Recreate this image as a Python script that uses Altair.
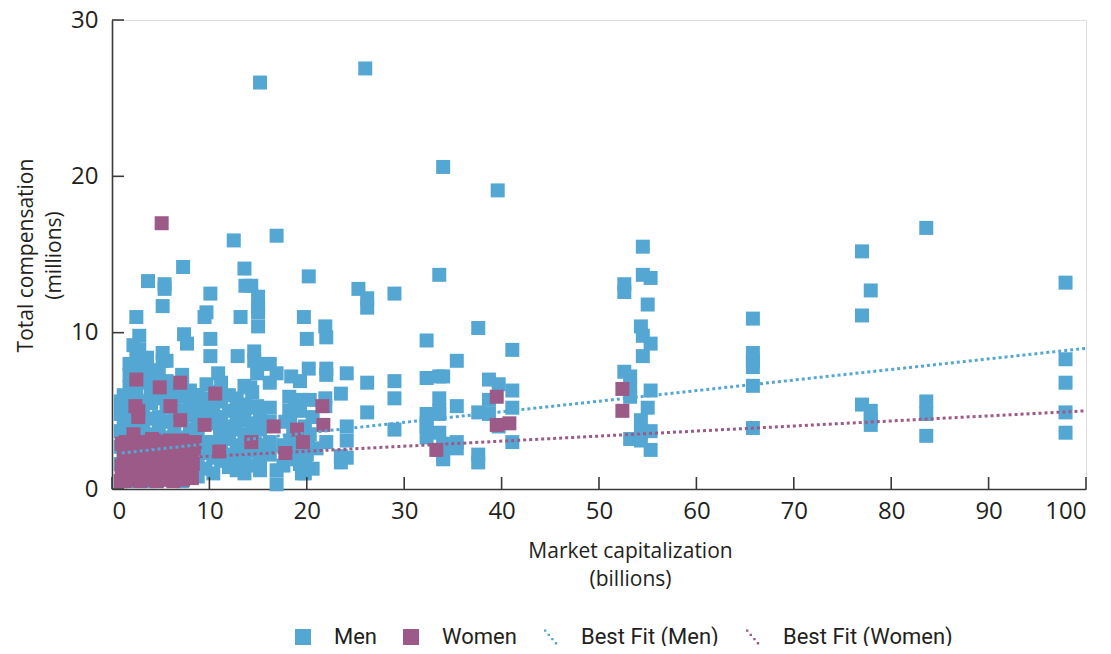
import altair as alt
import pandas as pd

# ---------------- data ----------------
men_x = [
    15.2, 26.0, 34.0, 39.6, 83.6, 54.5, 77.0, 12.5, 16.9, 7.3, 3.7, 5.4, 5.4, 13.6, 13.7, 14.3,
    15.0, 15.0, 15.0, 15.0, 10.1, 5.2, 9.7, 9.5, 2.5, 13.2, 2.8, 2.2, 7.4, 7.7, 10.1, 10.1,
    12.9, 14.6, 14.6, 15.9, 16.9, 5.2, 5.2, 2.8, 3.6, 3.4, 10.9, 7.2, 7.2, 9.7, 10.9, 8.7,
    14.9, 14.2, 13.0, 14.9, 13.0, 14.9, 10.1, 11.1, 11.1,
    20.2, 25.3, 26.2, 26.2, 29.0, 33.6, 19.7, 21.9, 22.0, 20.0, 32.3, 16.2, 20.2, 22.0, 22.0,
    24.1, 18.4, 19.3, 26.2, 29.0, 29.0, 32.3, 33.6, 34.0, 23.5, 21.9, 21.9, 18.2, 19.3, 18.2,
    19.3, 26.2, 32.3, 33.6, 33.6, 24.1, 24.1, 29.0, 32.3, 32.3, 33.6, 34.0, 34.0, 22.0, 23.5,
    23.5, 24.1, 19.8, 20.1, 19.8, 19.8, 18.3, 18.3, 18.3, 19.3, 16.9, 16.9,
    37.6, 41.1, 35.4, 38.7, 39.7, 41.1, 41.1, 33.6, 35.4, 37.6, 38.7, 38.7, 32.3, 39.7, 35.4,
    35.4, 33.6, 34.0, 41.1, 37.6, 37.6,
    54.5, 55.3, 52.6, 52.6, 55.0, 54.3, 54.5, 55.3, 54.5, 52.6, 53.2, 53.2, 53.2, 55.3, 55.0,
    54.3, 54.3, 53.2, 55.3, 55.3, 54.3,
    77.9, 77.0, 97.9, 65.8, 65.8, 65.8, 65.8, 65.8, 65.8, 77.0, 77.9, 77.9, 77.9, 83.6, 83.6,
    83.6, 97.9, 97.9, 97.9, 97.9,
    # dense cluster near the origin
    0.9, 0.9, 0.9, 0.9, 0.9, 0.9,
    1.2, 1.2, 1.2, 1.2, 1.2, 1.2, 1.2,
    1.8, 1.8, 1.8, 1.8, 1.8, 1.8, 1.8, 1.8,
    2.5, 2.5, 2.5, 2.5, 2.5, 2.5, 2.5, 2.5, 2.5,
    3.2, 3.2, 3.2, 3.2, 3.2, 3.2, 3.2, 3.2, 3.2,
    4.0, 4.0, 4.0, 4.0, 4.0, 4.0, 4.0, 4.0, 4.0,
    4.8, 4.8, 4.8, 4.8, 4.8, 4.8, 4.8, 4.8,
    5.6, 5.6, 5.6, 5.6, 5.6, 5.6, 5.6, 5.6, 5.6,
    6.4, 6.4, 6.4, 6.4, 6.4, 6.4, 6.4,
    7.2, 7.2, 7.2, 7.2, 7.2, 7.2, 7.2,
    8.0, 8.0, 8.0, 8.0, 8.0, 8.0, 8.0,
    8.8, 8.8, 8.8, 8.8, 8.8, 8.8, 8.8,
    9.6, 9.6, 9.6, 9.6, 9.6, 9.6,
    10.4, 10.4, 10.4, 10.4, 10.4,
    11.2, 11.2, 11.2, 11.2, 11.2, 11.2,
    12.0, 12.0, 12.0, 12.0, 12.0, 12.0,
    12.8, 12.8, 12.8, 12.8, 12.8, 12.8,
    13.6, 13.6, 13.6, 13.6, 13.6, 13.6, 13.6,
    14.4, 14.4, 14.4, 14.4, 14.4, 14.4,
    15.2, 15.2, 15.2, 15.2, 15.2,
    16.2, 16.2, 16.2, 16.2, 16.2,
    17.6, 17.6, 17.8, 18.6, 18.6, 18.8, 19.2, 19.5, 20.0, 20.3, 20.6, 20.3, 20.6, 21.0,
]
men_y = [
    26.0, 26.9, 20.6, 19.1, 16.7, 15.5, 15.2, 15.9, 16.2, 14.2, 13.3, 13.1, 12.8, 14.1, 13.0, 13.0,
    12.3, 11.6, 11.3, 10.4, 12.5, 11.7, 11.3, 11.0, 11.0, 11.0, 9.8, 9.2, 9.9, 9.3, 9.6, 8.5,
    8.5, 8.8, 8.2, 8.0, 7.4, 8.7, 8.2, 8.9, 8.4, 7.8, 7.4, 7.3, 6.7, 6.7, 6.2, 6.0,
    7.4, 6.5, 5.3, 5.3, 4.6, 4.2, 4.8, 4.0, 3.6,
    13.6, 12.8, 12.2, 11.6, 12.5, 13.7, 11.0, 10.4, 9.7, 9.6, 9.5, 8.0, 7.7, 7.7, 7.3,
    7.4, 7.2, 6.9, 6.8, 6.9, 5.8, 7.1, 7.2, 7.2, 6.1, 5.8, 5.3, 5.9, 5.7, 5.0,
    5.0, 4.9, 4.8, 5.8, 5.0, 4.0, 3.1, 3.8, 4.2, 3.3, 3.6, 2.9, 2.1, 3.0, 2.1,
    1.7, 2.0, 4.0, 2.9, 1.9, 1.0, 4.6, 3.1, 2.1, 1.6, 1.2, 0.3,
    10.3, 8.9, 8.2, 7.0, 6.7, 6.3, 5.2, 4.8, 5.3, 4.9, 5.7, 4.8, 4.0, 4.0, 3.0,
    2.6, 2.5, 1.9, 3.0, 2.2, 1.7,
    13.7, 13.5, 13.1, 12.6, 11.8, 10.4, 9.8, 9.3, 8.5, 7.5, 7.2, 6.5, 5.9, 6.3, 5.2,
    4.4, 3.6, 3.2, 3.7, 2.5, 3.1,
    12.7, 11.1, 13.2, 10.9, 8.7, 8.2, 7.8, 6.6, 3.9, 5.4, 5.0, 4.5, 4.1, 5.6, 4.8,
    3.4, 8.3, 6.8, 4.9, 3.6,
    0.5, 1.6, 2.7, 3.7, 4.8, 5.6,
    0.6, 1.5, 2.5, 3.5, 4.5, 5.3, 6.0,
    0.8, 2.0, 3.0, 4.0, 5.0, 6.5, 7.3, 8.0,
    0.5, 1.3, 2.2, 3.2, 4.2, 5.7, 6.3, 7.6, 8.4,
    0.7, 1.8, 2.8, 3.8, 4.8, 5.6, 6.8, 7.5, 8.0,
    0.5, 1.5, 2.5, 3.5, 4.5, 5.5, 6.2, 7.0, 7.6,
    0.8, 1.9, 2.9, 3.9, 4.6, 5.8, 6.6, 7.4,
    0.6, 1.4, 2.4, 3.3, 4.3, 5.2, 6.0, 6.9, 8.2,
    0.9, 1.8, 2.7, 3.6, 4.9, 5.6, 6.4,
    0.5, 1.2, 2.2, 3.3, 4.5, 5.0, 5.9,
    1.0, 1.9, 2.8, 3.8, 4.7, 5.5, 6.3,
    0.8, 1.6, 2.6, 3.5, 4.4, 5.2, 6.0,
    1.3, 2.3, 3.0, 4.3, 5.0, 5.8,
    1.0, 2.0, 3.0, 4.2, 5.4,
    1.8, 2.7, 3.6, 4.6, 5.6, 6.8,
    1.4, 2.2, 3.2, 4.0, 5.0, 6.0,
    1.2, 2.0, 2.8, 3.8, 4.7, 5.8,
    1.0, 1.8, 2.7, 3.5, 4.4, 5.4, 6.6,
    1.5, 2.4, 3.2, 4.0, 5.2, 6.2,
    1.2, 2.0, 2.8, 3.8, 4.6,
    2.2, 3.0, 4.3, 5.2, 6.8,
    1.5, 2.8, 4.3, 1.9, 3.6, 5.5, 2.5, 1.0, 2.2, 3.5, 4.6, 5.7, 1.3, 2.6,
]

women_x = [
    5.1, 2.5, 4.9, 7.0, 10.6, 2.4, 2.7, 2.7, 6.0, 7.0, 9.5, 2.2, 4.3, 7.2, 8.5, 11.0,
    14.3, 16.6, 21.6, 21.7, 19.0, 19.6, 17.8, 33.3, 39.5, 39.5, 40.8, 52.4, 52.4,
    # solid cluster near the origin
    1.0, 1.0, 1.2, 1.6, 1.8, 2.0, 2.4, 2.6, 2.8, 3.2, 3.4, 3.6, 4.0, 4.2, 4.4, 4.8,
    5.0, 5.2, 5.6, 5.8, 6.0, 6.4, 6.6, 6.8, 7.2, 7.4, 7.6, 8.0, 8.2, 8.4,
    1.4, 3.0, 5.0, 6.2, 1.3, 3.8, 6.9,
    0.9, 1.1, 1.0, 1.9, 2.1, 1.8, 2.9, 3.0, 2.7, 3.8, 3.9, 3.7, 4.6, 4.7, 4.5,
    5.5, 5.4, 5.6, 6.3, 6.5, 6.2, 7.3, 7.1, 7.2, 8.2, 8.3, 8.1, 4.1, 5.9, 7.7,
]
women_y = [
    17.0, 7.0, 6.5, 6.8, 6.1, 5.3, 5.0, 4.6, 5.3, 4.4, 4.1, 3.5, 3.1, 3.1, 3.0, 2.4,
    3.0, 4.0, 5.3, 4.1, 3.8, 3.0, 2.3, 2.5, 5.9, 4.1, 4.2, 6.4, 5.0,
    0.8, 1.5, 2.2, 1.0, 1.8, 2.6, 0.7, 1.4, 2.1, 1.0, 1.7, 2.5, 0.8, 1.4, 2.2, 1.1,
    1.8, 2.6, 0.9, 1.6, 2.3, 1.2, 2.0, 2.8, 0.9, 1.6, 2.3, 1.3, 2.0, 2.6,
    3.0, 3.0, 3.0, 2.8, 0.5, 0.6, 0.7,
    0.5, 1.2, 2.9, 0.6, 1.3, 2.2, 0.5, 1.9, 2.8, 0.6, 1.2, 2.9, 0.5, 1.8, 2.9,
    0.6, 1.3, 2.0, 0.5, 1.6, 2.6, 0.6, 1.2, 2.7, 0.7, 1.6, 2.4, 3.2, 3.1, 3.0,
]

fit_x = [1, 100]
fit_men = [2.3, 9.0]
fit_women = [1.8, 5.0]

x_ticks = [0, 10, 20, 30, 40, 50, 60, 70, 80, 90, 100]
y_ticks = [0, 10, 20, 30]

series = ["Men", "Women", "Best Fit (Men)", "Best Fit (Women)"]
colors = ["#55a7d3", "#9c5a88", "#55a7d3", "#9c5a88"]
dots = ("M-0.75,-0.95h0.3v0.3h-0.3z M-0.3,-0.42h0.3v0.3h-0.3z "
        "M0.15,0.11h0.3v0.3h-0.3z M0.6,0.64h0.3v0.3h-0.3z")
shapes = ["square", "square", dots, dots]

# ---------------- tables ----------------
pts = pd.concat([
    pd.DataFrame({"x": men_x, "y": men_y, "series": "Men"}),
    pd.DataFrame({"x": women_x, "y": women_y, "series": "Women"}),
], ignore_index=True)
fit_m = pd.DataFrame({"x": fit_x, "y": fit_men})
fit_w = pd.DataFrame({"x": fit_x, "y": fit_women})
xt = pd.DataFrame({"v": x_ticks})
yt = pd.DataFrame({"v": y_ticks})

W, H = 974, 469
FONT = "Open Sans"
TXT = "#231f20"
AX = "#3a3a3a"

xscale = alt.Scale(domain=[0, 100], nice=False, zero=False)
yscale = alt.Scale(domain=[0, 30], nice=False)

xaxis = alt.Axis(values=x_ticks, ticks=False, grid=False, domainColor=AX, domainWidth=1.6,
                 labelFont=FONT, labelFontSize=24, labelColor=TXT, labelPadding=10,
                 title=["Market capitalization", "(billions)"], titleFont=FONT,
                 titleFontSize=21, titleFontWeight="normal", titleColor=TXT,
                 titleLineHeight=28, titleX=518, titleY=51, titleAlign="center",
                 titleBaseline="top")
yaxis = alt.Axis(values=y_ticks, ticks=False, grid=False, domainColor=AX, domainWidth=1.6,
                 labelFont=FONT, labelFontSize=24, labelColor=TXT, labelPadding=14,
                 title=["Total compensation", "(millions)"], titleFont=FONT,
                 titleFontSize=21, titleFontWeight="normal", titleColor=TXT,
                 titleLineHeight=28, titleAngle=-90, titleX=-97, titleY=235,
                 titleAlign="center", titleBaseline="top")

legend = alt.Legend(title=None, orient="none", direction="horizontal",
                    legendX=180, legendY=606, columns=4,
                    labelFont="Roboto", labelFontSize=22, labelColor=TXT, labelLimit=0,
                    symbolSize=256, labelOffset=20, columnPadding=22,
                    symbolStrokeWidth=0, padding=0)

points = alt.Chart(pts).mark_point(filled=True, opacity=1, size=196, strokeWidth=0).encode(
    x=alt.X("x:Q", scale=xscale, axis=xaxis),
    y=alt.Y("y:Q", scale=yscale, axis=yaxis),
    color=alt.Color("series:N", scale=alt.Scale(domain=series, range=colors), legend=legend),
    shape=alt.Shape("series:N", scale=alt.Scale(domain=series, range=shapes), legend=legend),
)

line_m = alt.Chart(fit_m).mark_line(color="#55a7d3", strokeWidth=3, strokeDash=[3, 3],
                                    strokeCap="butt").encode(x="x:Q", y="y:Q")
line_w = alt.Chart(fit_w).mark_line(color="#9c5a88", strokeWidth=3, strokeDash=[3, 3],
                                    strokeCap="butt").encode(x="x:Q", y="y:Q")

xtick = alt.Chart(xt).mark_rule(color=AX, strokeWidth=1.6).encode(
    x="v:Q", y=alt.value(H), y2=alt.value(H - 12))
ytick = alt.Chart(yt).mark_rule(color=AX, strokeWidth=1.6).encode(
    y="v:Q", x=alt.value(0), x2=alt.value(12))

chart = alt.layer(points, line_m, line_w, xtick, ytick).properties(
    width=W, height=H,
    autosize=alt.AutoSizeParams(type="none"),
    padding={"left": 104, "top": 12, "right": 17, "bottom": 157},
).configure_view(stroke=None).configure(background="white")

chart.save("out.html", embed_options={"renderer": "svg", "actions": False})
